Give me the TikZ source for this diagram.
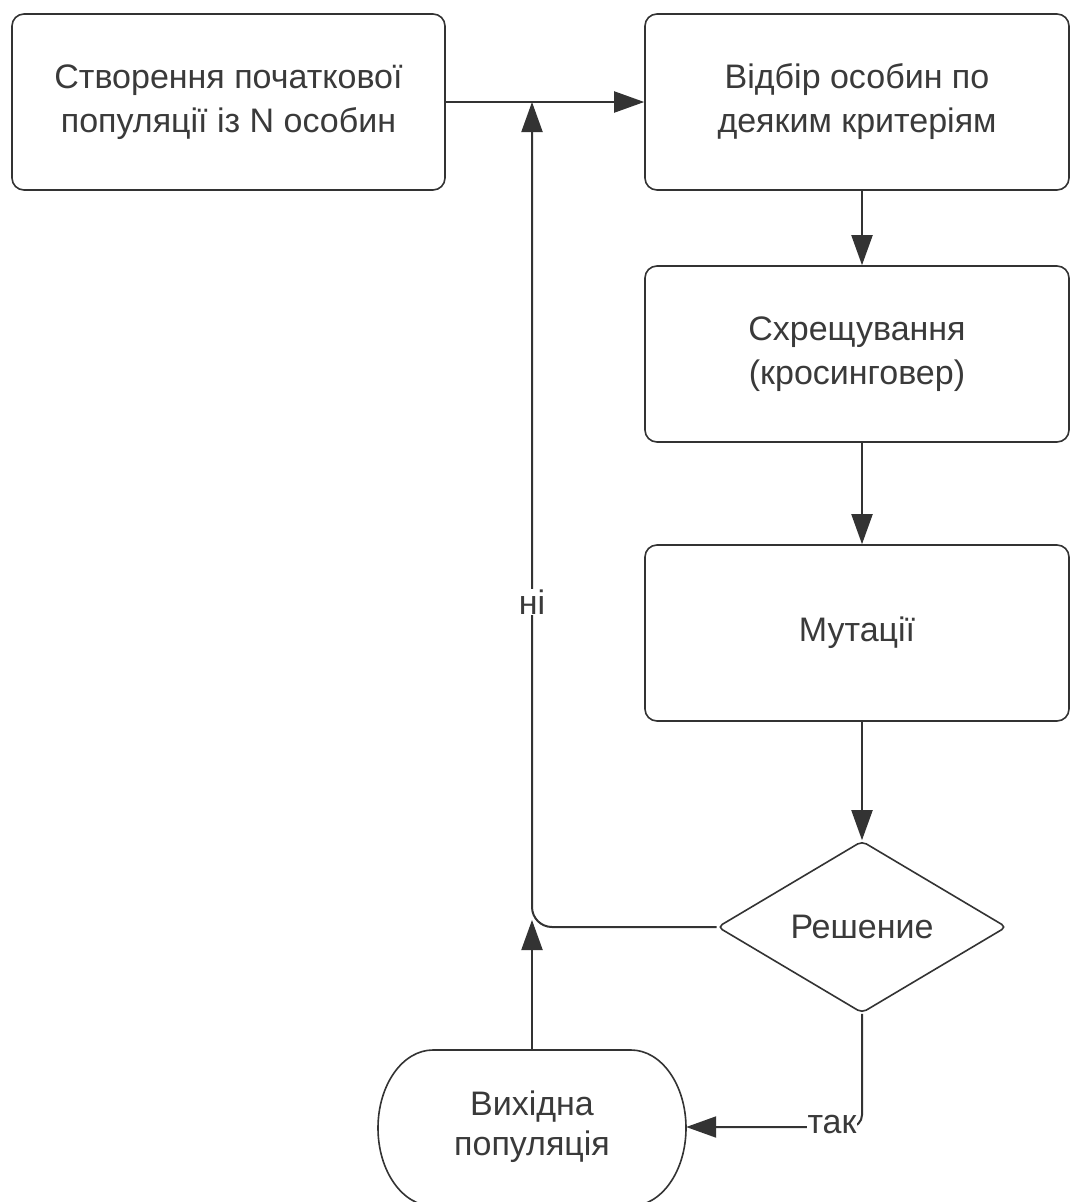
\documentclass[tikz,border=0pt]{standalone}
\usepackage{fontspec}
\setmainfont{Liberation Sans}
\usetikzlibrary{shapes.geometric,arrows.meta}
\definecolor{ink}{HTML}{333333}
\definecolor{txt}{HTML}{3A3A3A}
\tikzset{
  box/.style={draw=ink, line width=1.6pt, rounded corners=12pt, minimum width=424pt, minimum height=176pt,
    align=center, text=txt, font=\fontsize{34pt}{44pt}\selectfont, inner sep=0pt},
  decbox/.style={draw=ink, line width=1.6pt, shape=diamond, aspect=1.68, minimum width=289pt, minimum height=172pt,
    inner sep=0pt, rounded corners=5pt, text=txt, font=\fontsize{34pt}{44pt}\selectfont},
  termtext/.style={align=center, text=txt, font=\fontsize{34pt}{40pt}\selectfont, minimum width=308pt, minimum height=156pt, inner sep=0pt},
  lbl/.style={fill=white, text=txt, font=\fontsize{34pt}{38pt}\selectfont, inner sep=1pt},
  conn/.style={draw=ink, line width=2pt},
  arr/.style={conn, -{Triangle[length=30pt,width=21pt]}}
}
\begin{document}
\begin{tikzpicture}[x=1pt,y=-1pt]
\useasboundingbox (0,0) rectangle (1070,1202);
\clip (0,0) rectangle (1070,1202);
\fill[white] (0,0) rectangle (1070,1202);

\node[box, minimum width=433pt] (init) at (228.5,102) {Створення початкової\\популяції із N особин};
\node[box] (sel) at (857,102) {Відбір особин по\\деяким критеріям};
\node[box] (cross) at (857,354) {Схрещування\\(кросинговер)};
\node[box] (mut) at (857,633) {Мутації};
\node[decbox] (dec) at (862,927) {Решение};
\node[termtext] (out) at (532,1127) {Вихідна\\популяція};

% terminal outline
\draw[draw=ink, line width=1.6pt] (433,1050) -- (631,1050)
  .. controls (661.4,1050) and (686,1084.9) .. (686,1128)
  .. controls (686,1171.1) and (661.4,1206) .. (631,1206)
  -- (433,1206)
  .. controls (402.6,1206) and (378,1171.1) .. (378,1128)
  .. controls (378,1084.9) and (402.6,1050) .. (433,1050) -- cycle;

\coordinate (top) at (init.east -| out.north);
\coordinate (jn) at (out.north |- dec.west);

\draw[arr] (init.east) -- (sel.west);
\draw[arr] (sel.south -| dec.north) -- (cross.north -| dec.north);
\draw[arr] (cross.south -| dec.north) -- (mut.north -| dec.north);
\draw[arr] (mut.south -| dec.north) -- (dec.north);
\draw[arr, rounded corners=20pt] (dec.west) -| (top);
\draw[arr] (out.north) -- ([yshift=7pt]jn);
\draw[arr, rounded corners=12pt] (dec.south) |- (out.east);

\node[lbl] (no) at (532,602) {ні};
\node[lbl] (yes) at (832,1125) {так};
\end{tikzpicture}
\end{document}
